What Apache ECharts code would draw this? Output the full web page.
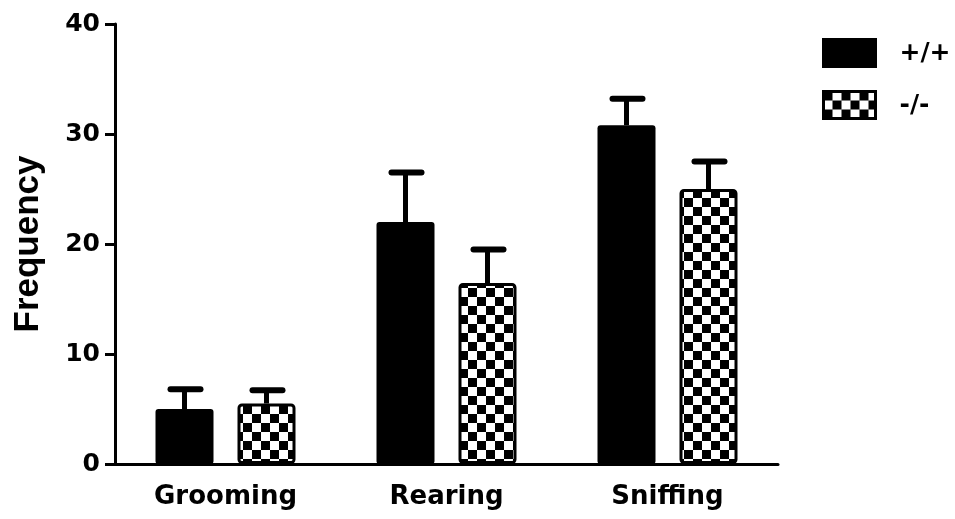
<!DOCTYPE html>
<html>
<head>
<meta charset="utf-8">
<script src="https://cdn.jsdelivr.net/npm/echarts@6/dist/echarts.min.js"></script>
<style>
  html, body { margin: 0; padding: 0; background: #fff; }
  #chart { width: 955px; height: 519px; }
</style>
</head>
<body>
<div id="chart"></div>
<script>
// Behaviour counts per genotype (mean with SEM)
var categories = ['Grooming', 'Rearing', 'Sniffing'];
var wtMean = [5.0, 22.0, 30.8];
var wtSem = [1.8, 4.5, 2.4];
var koMean = [5.5, 16.45, 25.0];
var koSem = [1.2, 3.05, 2.5];
var seriesNames = ['+/+', '-/-'];
var yTicks = { min: 0, max: 40, interval: 10 };

var WIDE = "'DejaVu Sans', 'Liberation Sans', Arial, sans-serif";
var ARIAL = "'Liberation Sans', Arial, sans-serif";
var BAR_W = 58;
var BAR_GAP_PX = 24;
var HALF_STEP = (BAR_W + BAR_GAP_PX) / 2;

// Checkerboard fill for the knockout bars
function checker(cell) {
  var c = document.createElement('canvas');
  c.width = c.height = cell * 2;
  var ctx = c.getContext('2d');
  ctx.fillStyle = '#fff';
  ctx.fillRect(0, 0, cell * 2, cell * 2);
  ctx.fillStyle = '#000';
  ctx.fillRect(0, 0, cell, cell);
  ctx.fillRect(cell, cell, cell, cell);
  return c;
}
var pattern = { image: checker(9), repeat: 'repeat' };

function errData(mean, sem) {
  return mean.map(function (m, i) { return [i, m, m + sem[i]]; });
}

// Upper SEM whisker with a flat cap, shifted onto its bar
function errSeries(mean, sem, offset) {
  return {
    type: 'custom',
    z: 5,
    silent: true,
    data: errData(mean, sem),
    renderItem: function (params, api) {
      var base = api.coord([api.value(0), api.value(1)]);
      var top = api.coord([api.value(0), api.value(2)]);
      var x = base[0] + offset;
      return {
        type: 'group',
        children: [
          { type: 'line', shape: { x1: x, y1: base[1], x2: x, y2: top[1] },
            style: { stroke: '#000', lineWidth: 5 } },
          { type: 'line', shape: { x1: x - 14, y1: top[1], x2: x + 16, y2: top[1] },
            style: { stroke: '#000', lineWidth: 6, lineCap: 'round' } }
        ]
      };
    }
  };
}

var chart = echarts.init(document.getElementById('chart'), null, { renderer: 'canvas' });
chart.setOption({
  animation: false,
  backgroundColor: '#fff',
  grid: { left: 115, right: 177, top: 24, bottom: 55 },
  legend: {
    data: seriesNames,
    orient: 'vertical',
    left: 822,
    top: 38,
    padding: 0,
    icon: 'rect',
    itemWidth: 52,
    itemHeight: 27,
    itemGap: 22,
    itemStyle: { borderColor: '#000', borderWidth: 3 },
    textStyle: { fontFamily: WIDE, fontWeight: 'bold', fontSize: 25, color: '#000', padding: [0, 0, 0, 19] }
  },
  xAxis: {
    type: 'category',
    data: categories,
    axisLine: { lineStyle: { color: '#000', width: 3 } },
    axisTick: { alignWithLabel: true, length: 9, lineStyle: { color: '#000', width: 3 } },
    axisLabel: { fontFamily: WIDE, fontWeight: 'bold', fontSize: 26, color: '#000', margin: 20 }
  },
  yAxis: {
    type: 'value',
    min: yTicks.min,
    max: yTicks.max,
    interval: yTicks.interval,
    name: 'Frequency',
    nameLocation: 'middle',
    nameRotate: 90,
    nameGap: 69,
    nameTextStyle: { fontFamily: ARIAL, fontWeight: 'bold', fontSize: 35, color: '#000' },
    axisLine: { show: true, lineStyle: { color: '#000', width: 3 } },
    axisTick: { show: true, length: 10, lineStyle: { color: '#000', width: 3 } },
    axisLabel: { fontFamily: WIDE, fontWeight: 'bold', fontSize: 25, color: '#000', margin: 15 },
    splitLine: { show: false }
  },
  series: [
    {
      name: seriesNames[0],
      type: 'bar',
      data: wtMean,
      barWidth: BAR_W,
      barGap: (BAR_GAP_PX / BAR_W * 100) + '%',
      itemStyle: { color: '#000', borderColor: '#000', borderWidth: 0, borderRadius: 3 }
    },
    {
      name: seriesNames[1],
      type: 'bar',
      data: koMean,
      barWidth: BAR_W,
      barGap: (BAR_GAP_PX / BAR_W * 100) + '%',
      itemStyle: { color: pattern, borderColor: '#000', borderWidth: 3, borderRadius: 3 }
    },
    errSeries(wtMean, wtSem, -HALF_STEP),
    errSeries(koMean, koSem, HALF_STEP)
  ]
});
</script>
</body>
</html>
